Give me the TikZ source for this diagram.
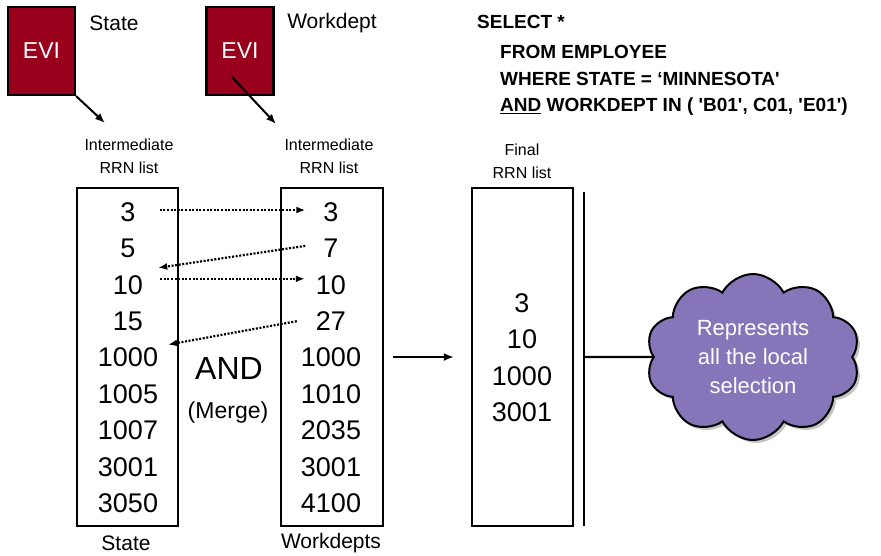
\documentclass[tikz,border=0pt]{standalone}
\usepackage{fontspec}
\setmainfont{Liberation Sans}
\newfontfamily\sqlfont[Ligatures=TeXOff]{Liberation Sans}
\usetikzlibrary{arrows.meta,shapes.symbols,shadows,calc}
\definecolor{evired}{RGB}{153,0,28}
\definecolor{cloudpurple}{RGB}{134,117,185}
\begin{document}
\begin{tikzpicture}[x=1pt,y=-1pt,
  evibox/.style={draw=black,line width=2.2pt,fill=evired,minimum width=67pt,minimum height=88pt,inner sep=0pt,text=white,font=\fontsize{23}{27}\selectfont},
  toplabel/.style={font=\fontsize{21}{25}\selectfont,inner sep=0pt},
  smalllabel/.style={font=\fontsize{16}{23}\selectfont,align=center,inner sep=0pt},
  listbox/.style={draw=black,line width=2.2pt,minimum height=338pt,inner sep=0pt},
  num/.style={font=\fontsize{27}{32}\selectfont,inner sep=0pt},
  sql/.style={font=\sqlfont\bfseries\fontsize{19}{23}\selectfont,anchor=west,inner sep=0pt},
  arr/.style={line width=2pt,-{Latex[length=10pt,width=8pt]}},
  dotarr/.style={line width=2.2pt,dash pattern=on 2pt off 1.6pt,-{Latex[length=9pt,width=7pt]}},
  plainline/.style={line width=2.2pt}
]
\useasboundingbox (0,0) rectangle (881,555);

% EVI boxes and their labels
\node[evibox] (evi1) at (41.5,51) {EVI};
\node[evibox] (evi2) at (240,51) {EVI};
\node[toplabel] (st) at (114,23) {State};
\node[toplabel] (wd) at (332,23) {Workdept};

% intermediate labels
\node[smalllabel] (int1) at (129,156.5) {Intermediate\\RRN list};
\node[smalllabel] (int2) at (329,156.5) {Intermediate\\RRN list};
\node[smalllabel] (fin) at (522,161.5) {Final\\RRN list};

\coordinate (e1end) at (105,123);
\coordinate (e2end) at (276,124);
\draw[arr] (evi1.south east) -- (e1end);
\draw[arr] ([xshift=-8pt,yshift=-26pt]evi2.center) -- (e2end);

% SQL
\node[sql] (q1) at (477,22) {SELECT *};
\node[sql] (q2) at (500,52) {FROM EMPLOYEE};
\node[sql] (q3) at (500,79) {WHERE STATE = ‘MINNESOTA'};
\node[sql] (q4) at (500,107) {\underline{AND} WORKDEPT IN ( 'B01', C01, 'E01')};

% list boxes
\node[listbox,minimum width=101pt] (lbox) at (127.5,357) {};
\node[listbox,minimum width=102pt] (rbox) at (332,357) {};
\node[listbox,minimum width=101pt] (fbox) at (522.5,357) {};

\foreach \v [count=\i] in {3,5,10,15,1000,1005,1007,3001,3050}
  \node[num] (L\i) at (128,{212+36.4*(\i-1)}) {\v};
\foreach \v [count=\i] in {3,7,10,27,1000,1010,2035,3001,4100}
  \node[num] (R\i) at (331,{212+36.4*(\i-1)}) {\v};
\foreach \v [count=\i] in {3,10,1000,3001}
  \node[num] (F\i) at (522,{303+36.5*(\i-1)}) {\v};

% bottom labels
\node[toplabel] (bst) at (126,543) {State};
\node[toplabel] (bwd) at (331,543) {Workdepts};

% AND (Merge)
\node[font=\fontsize{32}{36}\selectfont,inner sep=0pt] (and) at (229,368) {AND};
\node[font=\fontsize{23}{27}\selectfont,inner sep=0pt] (merge) at (228,413) {(Merge)};

% dotted merge arrows
\draw[dotarr] ([xshift=24pt,yshift=2pt]L1.east) -- ([xshift=-18pt,yshift=2pt]R1.west);
\draw[dotarr] ([xshift=-18pt,yshift=2.5pt]R2.west) -- ([xshift=15pt,yshift=17pt]L3.east);
\draw[dotarr] ([xshift=17pt,yshift=6pt]L3.east) -- ([xshift=-11pt,yshift=6pt]R3.west);
\draw[dotarr] ([xshift=-19pt,yshift=0pt]R4.west) -- ([xshift=10pt,yshift=13pt]L5.east);

% arrow to final list
\draw[arr] ([xshift=9pt]rbox.east) -- ([xshift=-17pt]fbox.west);

% vertical bar and cloud
\coordinate (vtop) at (584,192);
\coordinate (vbot) at (584,526);
\coordinate (vmid) at (584,357);
\draw[plainline] (vtop) -- (vbot);
\node[cloud,cloud puffs=10,cloud puff arc=125,aspect=1.3,draw=black,line width=2pt,
  fill=cloudpurple,minimum width=214pt,minimum height=166pt,inner sep=0pt,
  drop shadow={shadow xshift=3pt,shadow yshift=-3pt,fill=black!45},
  text=white,align=center,font=\fontsize{22}{29}\selectfont] (cl) at (753,357)
  {Represents\\all the local\\selection};
\draw[plainline] (vmid) -- (cl.west);
\end{tikzpicture}
\end{document}
